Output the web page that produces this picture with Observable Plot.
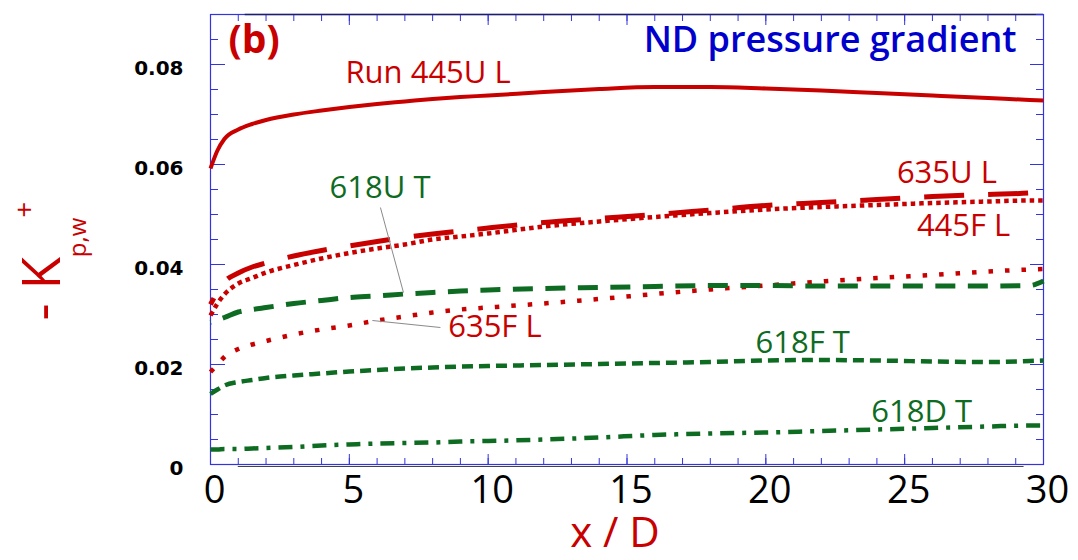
<!DOCTYPE html>
<html>
<head>
<meta charset="utf-8">
<script src="https://cdn.jsdelivr.net/npm/d3@7"></script>
<script src="https://cdn.jsdelivr.net/npm/@observablehq/plot@0.6"></script>
<style>
  html, body { margin: 0; padding: 0; background: #fff; }
  #chart { width: 1078px; height: 560px; }
</style>
</head>
<body>
<div id="chart"></div>
<script>
// Streamwise position x/D shared by every run
const xOverD = [0, 0.25, 0.5, 1, 1.5, 2, 3, 4, 5, 6, 7, 8, 9, 10, 12, 14, 16, 18, 20, 22, 24, 26, 28, 29.5, 30];

// -K+_{p,w} for each run, sampled at xOverD
const run445U_L = [0.0592, 0.0628, 0.0651, 0.0670, 0.0681, 0.0689, 0.0700, 0.0708, 0.0715, 0.0721, 0.0726, 0.0731, 0.0735, 0.0738, 0.0745, 0.0751, 0.0755, 0.0755, 0.0752, 0.0748, 0.0743, 0.0738, 0.0733, 0.0729, 0.0728];
const run635U_L = [0.0320, 0.0345, 0.0365, 0.0383, 0.0395, 0.0403, 0.0417, 0.0428, 0.0437, 0.0446, 0.0454, 0.0461, 0.0467, 0.0473, 0.0484, 0.0492, 0.0500, 0.0509, 0.0518, 0.0524, 0.0530, 0.0536, 0.0540, 0.0543, 0.0551];
const run445F_L = [0.0298, 0.0322, 0.0340, 0.0362, 0.0373, 0.0384, 0.0399, 0.0412, 0.0423, 0.0432, 0.0440, 0.0450, 0.0456, 0.0462, 0.0476, 0.0486, 0.0495, 0.0503, 0.0510, 0.0515, 0.0519, 0.0523, 0.0526, 0.0528, 0.0528];
const run618U_T = [0.0284, 0.0289, 0.0294, 0.0305, 0.0310, 0.0314, 0.0322, 0.0328, 0.0334, 0.0337, 0.0341, 0.0344, 0.0347, 0.0349, 0.0352, 0.0354, 0.0356, 0.0358, 0.0358, 0.0357, 0.0357, 0.0357, 0.0357, 0.0358, 0.0367];
const run635F_L = [0.0185, 0.0200, 0.0215, 0.0231, 0.0240, 0.0247, 0.0260, 0.0270, 0.0278, 0.0288, 0.0296, 0.0304, 0.0310, 0.0314, 0.0322, 0.0331, 0.0341, 0.0350, 0.0358, 0.0366, 0.0373, 0.0379, 0.0386, 0.0390, 0.0391];
const run618F_T = [0.0141, 0.0150, 0.0158, 0.0165, 0.0169, 0.0173, 0.0178, 0.0182, 0.0186, 0.0189, 0.0192, 0.0194, 0.0196, 0.0197, 0.0199, 0.0201, 0.0203, 0.0205, 0.0208, 0.0209, 0.0208, 0.0206, 0.0205, 0.0207, 0.0208];
const run618D_T = [0.0030, 0.0030, 0.0031, 0.0031, 0.0032, 0.0033, 0.0035, 0.0038, 0.0040, 0.0042, 0.0043, 0.0044, 0.0046, 0.0047, 0.0050, 0.0054, 0.0059, 0.0062, 0.0064, 0.0067, 0.0070, 0.0073, 0.0076, 0.0078, 0.0078];

// Draw order: back to front
const runNames  = ["618D T", "618F T", "635F L", "618U T", "445F L", "635U L", "Run 445U L"];
const runValues = [run618D_T, run618F_T, run635F_L, run618U_T, run445F_L, run635U_L, run445U_L];

// Axis ticks
const yTicks = [0, 0.02, 0.04, 0.06, 0.08];
const yTickLabels = ["0", "0.02", "0.04", "0.06", "0.08"];
const yMinorTicks = d3.range(0, 0.0901, 0.005);
const xTicks = [0, 5, 10, 15, 20, 25, 30];
const xTickLabels = ["0", "5", "10", "15", "20", "25", "30"];
const xMinorTicks = d3.range(0, 31, 1);

// In-plot run labels, anchored at their baseline start
const labelText = ["Run 445U L", "635U L", "445F L", "618U T", "635F L", "618F T", "618D T"];
const labelX    = [4.86, 24.72, 25.44, 4.29, 8.56, 19.63, 23.8];
const labelY    = [0.0763, 0.0564, 0.0458, 0.0533, 0.0255, 0.0223, 0.0085];

// Leader lines from two labels to their curves
const leaderX1 = [6.12, 5.83];
const leaderY1 = [0.0514, 0.0288];
const leaderX2 = [6.95, 8.28];
const leaderY2 = [0.0344, 0.0274];

const RED = "#c80000";
const GREEN = "#0e6b22";
const BLUE = "#3434de";

const runStyle = {
  "Run 445U L": {stroke: RED, strokeWidth: 4},
  "635U L": {stroke: RED, strokeWidth: 5, strokeDasharray: "40,24", strokeDashoffset: 33},
  "445F L": {stroke: RED, strokeWidth: 4.5, strokeDasharray: "4.5,4"},
  "618U T": {stroke: GREEN, strokeWidth: 5, strokeDasharray: "20,12.5", strokeDashoffset: 19.5},
  "635F L": {stroke: RED, strokeWidth: 4.5, strokeDasharray: "4.5,12"},
  "618F T": {stroke: GREEN, strokeWidth: 4.5, strokeDasharray: "11,6"},
  "618D T": {stroke: GREEN, strokeWidth: 4.5, strokeDasharray: "14,8,4,8"}
};
const labelColor = (t) => t.startsWith("618") ? GREEN : RED;

const runLines = runNames.map((name, k) =>
  Plot.line(xOverD.map((x, i) => ({x, y: runValues[k][i]})), {
    x: "x", y: "y", curve: "monotone-x",
    strokeLinecap: "butt", strokeLinejoin: "round",
    ...runStyle[name]
  })
);

const labels = labelText.map((t, i) => ({t, x: labelX[i], y: labelY[i]}));
const leaders = leaderX1.map((_, i) => ({x1: leaderX1[i], y1: leaderY1[i], x2: leaderX2[i], y2: leaderY2[i]}));

const plot = Plot.plot({
  width: 1078,
  height: 560,
  marginLeft: 210,
  marginRight: 35,
  marginTop: 14,
  marginBottom: 96,
  style: {fontFamily: "'Open Sans', sans-serif", background: "#fff", overflow: "visible"},
  x: {domain: [0, 30]},
  y: {domain: [0, 0.09]},
  marks: [
    // frame and inward ticks on all four sides
    Plot.frame({stroke: BLUE, strokeWidth: 1.2}),
    Plot.ruleY([0.09], {x1: 1.25, x2: 30, stroke: "#1e1e66", strokeWidth: 1.4}),
    Plot.ruleY([0], {x1: 1, x2: 29.3, stroke: "#444", strokeWidth: 1.2, dy: 2}),
    Plot.axisX({ticks: xMinorTicks, tickSize: -6, fill: null, stroke: BLUE, label: null}),
    Plot.axisX({ticks: xTicks, tickSize: -10, fill: null, stroke: BLUE, label: null}),
    Plot.axisX({anchor: "top", ticks: xMinorTicks, tickSize: -6, fill: null, stroke: BLUE, label: null}),
    Plot.axisX({anchor: "top", ticks: xTicks, tickSize: -10, fill: null, stroke: BLUE, label: null}),
    Plot.axisY({ticks: yMinorTicks, tickSize: -8, fill: null, stroke: BLUE, label: null}),
    Plot.axisY({ticks: yTicks, tickSize: -15, fill: null, stroke: BLUE, label: null}),
    Plot.axisY({anchor: "right", ticks: yMinorTicks, tickSize: -8, fill: null, stroke: BLUE, label: null}),
    Plot.axisY({anchor: "right", ticks: yTicks, tickSize: -14, fill: null, stroke: BLUE, label: null}),
    // tick labels
    Plot.axisX({ticks: xTicks, tickFormat: (d, i) => xTickLabels[i], tickSize: 0, tickPadding: 12, dx: 4,
      fontSize: 38, fill: "#000", label: null}),
    Plot.axisY({ticks: yTicks, tickFormat: (d, i) => yTickLabels[i], tickSize: 0, tickPadding: 27, dy: 4.5,
      fontSize: 20, fontWeight: "bold", fontFamily: "'DejaVu Sans', sans-serif", fill: "#000", label: null}),
    // curves
    ...runLines,
    // leader lines and run labels
    Plot.link(leaders, {x1: "x1", y1: "y1", x2: "x2", y2: "y2", stroke: "#8a8a8a", strokeWidth: 1}),
    Plot.text(labels, {x: "x", y: "y", text: "t", textAnchor: "start", lineAnchor: "bottom",
      fontSize: 31, fill: (d) => labelColor(d.t)}),
    // panel tag and heading
    Plot.text(["(b)"], {frameAnchor: "top-left", textAnchor: "start", lineAnchor: "bottom",
      dx: 18, dy: 38.7, fontSize: 39, fontWeight: "bold", fill: RED}),
    Plot.text(["ND pressure gradient"], {frameAnchor: "top-right", textAnchor: "end", lineAnchor: "bottom",
      dx: -27, dy: 37.7, fontSize: 36, fontWeight: 600, fill: "#0000cc"}),
    // x axis title
    Plot.text(["x / D"], {frameAnchor: "bottom", textAnchor: "middle", lineAnchor: "bottom",
      dx: -12, dy: 82.5, fontSize: 42, fill: RED})
  ]
});

document.getElementById("chart").appendChild(plot);

// y axis title: -K with superscript + and subscript p,w
const ylab = d3.select(plot).append("text")
  .attr("transform", "translate(60,261) rotate(-90)")
  .attr("fill", RED)
  .attr("font-family", "'Open Sans', sans-serif");
ylab.append("tspan").attr("font-size", 53).text("- K");
ylab.append("tspan").attr("font-size", 24).attr("dy", 26).text("p,w");
ylab.append("tspan").attr("font-size", 28).attr("dy", -52).text("+");
</script>
</body>
</html>
